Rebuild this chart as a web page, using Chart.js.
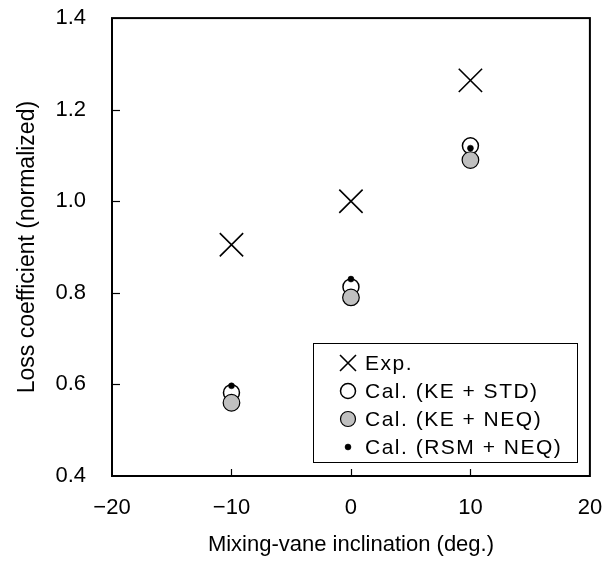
<!DOCTYPE html>
<html><head><meta charset="utf-8">
<script src="https://cdn.jsdelivr.net/npm/chart.js@4/dist/chart.umd.min.js"></script>
<style>html,body{margin:0;padding:0;background:#fff}#wrap{width:608px;height:565px}</style>
</head><body><div id="wrap"><canvas id="c" width="608" height="565"></canvas></div>
<script>
// ---- data ----
const inclinations = [-10, 0, 10];
const expValues = [0.905, 1.0, 1.264];
const keStdValues = [0.582, 0.813, 1.121];
const keNeqValues = [0.560, 0.790, 1.090];
const rsmNeqValues = [0.597, 0.830, 1.116];
const seriesLabels = ['Exp.', 'Cal. (KE + STD)', 'Cal. (KE + NEQ)', 'Cal. (RSM + NEQ)'];
const xTickValues = [-20, -10, 0, 10, 20];
const yTickValues = [0.4, 0.6, 0.8, 1.0, 1.2, 1.4];
const xTitle = 'Mixing-vane inclination (deg.)';
const yTitle = 'Loss coefficient (normalized)';

const FONT = '"Liberation Sans", Arial, sans-serif';
const pts = (vals) => inclinations.map((x, i) => ({x: x, y: vals[i]}));

const datasets = [
  {label: seriesLabels[0], data: pts(expValues), pointStyle: 'crossRot', pointRadius: 16.5,
   borderColor: '#000', backgroundColor: '#000', pointBorderWidth: 1.6, order: 3, legendRadius: 11.3},
  {label: seriesLabels[1], data: pts(keStdValues), pointStyle: 'circle', pointRadius: 8,
   borderColor: '#000', backgroundColor: '#fff', pointBorderWidth: 1.5, order: 2, legendRadius: 7.5},
  {label: seriesLabels[2], data: pts(keNeqValues), pointStyle: 'circle', pointRadius: 8.3,
   borderColor: '#000', backgroundColor: '#c0c0c0', pointBorderWidth: 1.2, order: 1, legendRadius: 7.5},
  {label: seriesLabels[3], data: pts(rsmNeqValues), pointStyle: 'circle', pointRadius: 3,
   borderColor: '#000', backgroundColor: '#000', pointBorderWidth: 0.5, order: 0, legendRadius: 3}
];

function drawMark(ctx, ds, r, x, y) {
  ctx.save();
  ctx.strokeStyle = ds.borderColor;
  ctx.fillStyle = ds.backgroundColor;
  ctx.lineWidth = ds.pointBorderWidth;
  if (Chart.helpers && Chart.helpers.drawPoint) {
    Chart.helpers.drawPoint(ctx, {pointStyle: ds.pointStyle, radius: r, rotation: 0, borderWidth: ds.pointBorderWidth}, x, y);
  } else {
    ctx.beginPath();
    if (ds.pointStyle === 'crossRot') {
      const o = r * Math.SQRT1_2;
      ctx.moveTo(x - o, y - o); ctx.lineTo(x + o, y + o);
      ctx.moveTo(x - o, y + o); ctx.lineTo(x + o, y - o);
      ctx.stroke();
    } else {
      ctx.arc(x, y, r, 0, Math.PI * 2); ctx.fill(); ctx.stroke();
    }
  }
  ctx.restore();
}

const frameAndTicks = {
  id: 'frameAndTicks',
  beforeDatasetsDraw(chart) {
    const {ctx, chartArea: a, scales} = chart;
    ctx.save();
    ctx.strokeStyle = '#000';
    ctx.lineWidth = 1.2;
    scales.x.ticks.forEach(t => {
      if (t.value === scales.x.min || t.value === scales.x.max) return;
      const px = Math.round(scales.x.getPixelForValue(t.value)) + 0.5;
      ctx.beginPath(); ctx.moveTo(px, a.bottom); ctx.lineTo(px, a.bottom - 7); ctx.stroke();
    });
    scales.y.ticks.forEach(t => {
      if (Math.abs(t.value - scales.y.min) < 1e-9 || Math.abs(t.value - scales.y.max) < 1e-9) return;
      const py = Math.round(scales.y.getPixelForValue(t.value)) + 0.5;
      ctx.beginPath(); ctx.moveTo(a.left, py); ctx.lineTo(a.left + 8, py); ctx.stroke();
    });
    ctx.lineWidth = 2;
    ctx.strokeRect(a.left, a.top, a.right - a.left, a.bottom - a.top);
    ctx.restore();
  }
};

const boxLegend = {
  id: 'boxLegend',
  afterDraw(chart) {
    const ctx = chart.ctx;
    const bx = 313.5, by = 343.5, bw = 264, bh = 119;
    ctx.save();
    ctx.fillStyle = '#fff';
    ctx.fillRect(bx, by, bw, bh);
    ctx.strokeStyle = '#000';
    ctx.lineWidth = 1;
    ctx.strokeRect(bx, by, bw, bh);
    ctx.font = '21px ' + FONT;
    try { ctx.letterSpacing = '1.5px'; } catch (e) {}
    ctx.textBaseline = 'middle';
    ctx.textAlign = 'left';
    chart.data.datasets.forEach((ds, i) => {
      const y = 363 + i * 28;
      drawMark(ctx, ds, ds.legendRadius, 348, y);
      ctx.fillStyle = '#000';
      ctx.fillText(ds.label, 365, y + 1);
    });
    ctx.restore();
  }
};

new Chart(document.getElementById('c'), {
  type: 'scatter',
  data: {datasets: datasets},
  options: {
    responsive: false,
    animation: false,
    devicePixelRatio: 1,
    layout: {padding: {top: 14, right: 14, left: 0, bottom: 0}},
    plugins: {legend: {display: false}, tooltip: {enabled: false}},
    scales: {
      x: {
        type: 'linear', position: 'bottom', min: -20, max: 20,
        afterBuildTicks: s => { s.ticks = xTickValues.map(v => ({value: v})); },
        afterFit: s => { s.height = 89; s.paddingLeft = 0; s.paddingRight = 0; },
        grid: {display: false, drawTicks: false}, border: {display: false},
        ticks: {color: '#000', font: {family: FONT, size: 22}, padding: 19,
                callback: v => String(v).replace('-', '\u2212')},
        title: {display: true, text: xTitle, color: '#000', font: {family: FONT, size: 22},
                padding: {top: 4, bottom: 7}}
      },
      y: {
        type: 'linear', min: 0.4, max: 1.4,
        afterBuildTicks: s => { s.ticks = yTickValues.map(v => ({value: v})); },
        afterFit: s => { s.width = 112; s.paddingTop = 0; s.paddingBottom = 0; },
        grid: {display: false, drawTicks: false}, border: {display: false},
        ticks: {color: '#000', font: {family: FONT, size: 22}, padding: 26,
                callback: v => Number(v).toFixed(1)},
        title: {display: true, text: yTitle, color: '#000', font: {family: FONT, size: 23},
                padding: {top: 14, bottom: 4}}
      }
    }
  },
  plugins: [frameAndTicks, boxLegend]
});
</script></body></html>
